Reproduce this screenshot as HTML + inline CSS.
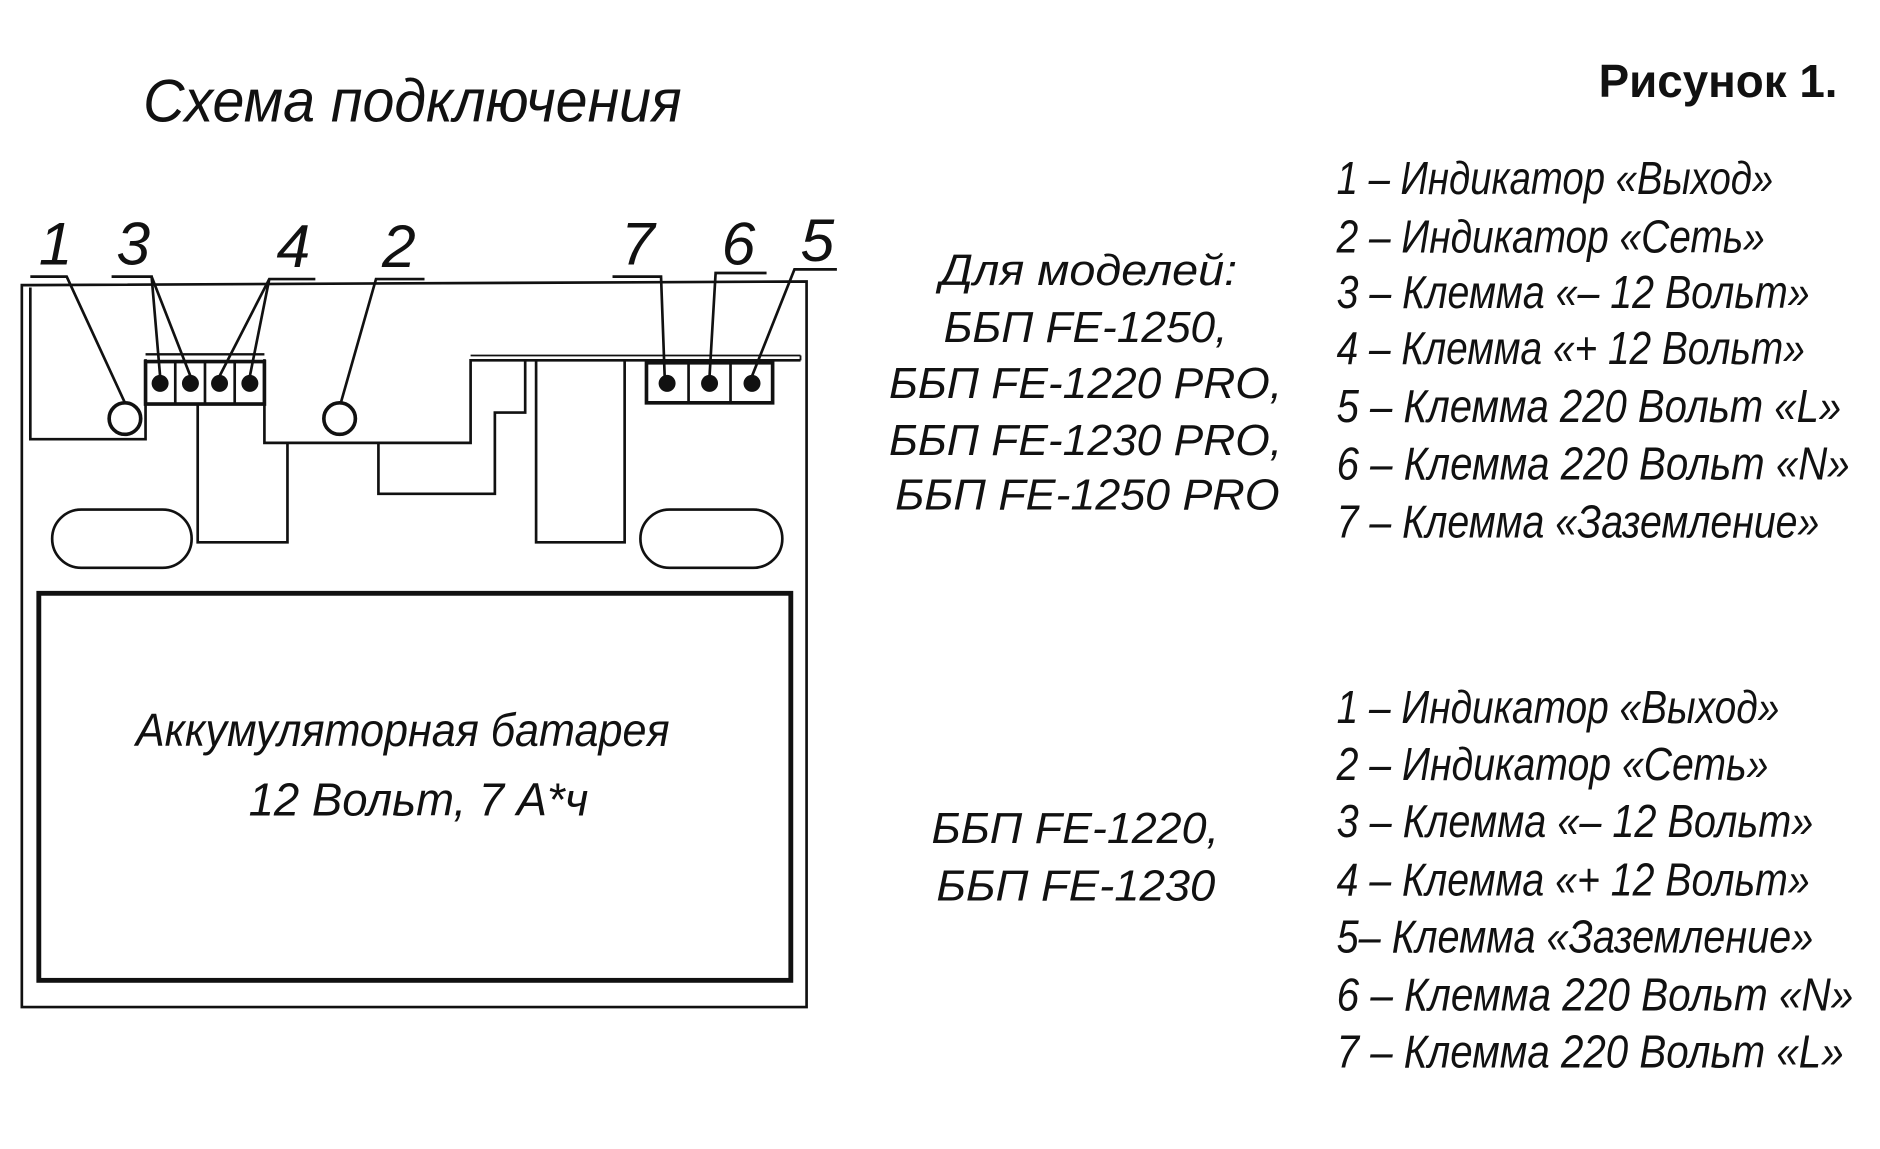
<!DOCTYPE html>
<html><head><meta charset="utf-8"><style>
html,body{margin:0;padding:0;background:#fff;}
svg{display:block}
text{font-family:"Liberation Sans","DejaVu Sans",sans-serif;font-style:italic;fill:#111;}
</style></head><body>
<svg width="1880" height="1149" viewBox="0 0 1550 947" preserveAspectRatio="none" xmlns="http://www.w3.org/2000/svg">
<rect width="1550" height="947" fill="#fff"/>
<text x="118" y="100" font-size="50" textLength="444" lengthAdjust="spacingAndGlyphs">Схема подключения</text>
<text x="1318" y="80" font-size="38" font-weight="bold" font-style="normal" style="font-style:normal" textLength="197" lengthAdjust="spacingAndGlyphs">Рисунок 1.</text>

<g stroke="#111" fill="none" stroke-width="2.2">
<!-- outer -->
<polyline points="22,235 665,232 665,830 18,830 18,235 22,235"/>
<!-- inner outline -->
<polyline points="25,237 25,362 120,362 120,296"/>
<polyline points="218,296 218,365 388,365 388,297 660,297"/>
<line x1="388" y1="293" x2="660" y2="293" stroke-width="1.5"/>
<line x1="660" y1="293" x2="660" y2="297" stroke-width="1.5"/>
<!-- terminal block left -->
<rect x="120" y="298" width="98" height="35" stroke-width="3"/>
<line x1="120" y1="292" x2="218" y2="292" stroke-width="2"/>
<line x1="144.5" y1="298" x2="144.5" y2="333"/><line x1="169" y1="298" x2="169" y2="333"/><line x1="193.5" y1="298" x2="193.5" y2="333"/>
<!-- terminal block right -->
<rect x="533" y="299" width="104" height="33" stroke-width="3"/>
<line x1="567.7" y1="299" x2="567.7" y2="332"/><line x1="602.3" y1="299" x2="602.3" y2="332"/>
<!-- lower shapes -->
<polyline points="163,333 163,447 237,447 237,365"/>
<polyline points="312,365 312,407 408,407 408,340 433,340 433,297"/>
<polyline points="442,297 442,447 515,447 515,297"/>
<rect x="43" y="420" width="115" height="48" rx="24"/>
<rect x="528" y="420" width="117" height="48" rx="24"/>
<circle cx="103" cy="345" r="13" stroke-width="3"/>
<circle cx="280" cy="345" r="13" stroke-width="3"/>
<!-- battery -->
<rect x="32" y="489" width="620" height="319" stroke-width="4"/>
<!-- leaders -->
<polyline points="25,228 55,228 103,332"/>
<polyline points="92,228 125,228 132,310"/><line x1="125" y1="228" x2="157" y2="310"/>
<polyline points="260,230 222,230 181,310"/><line x1="222" y1="230" x2="206" y2="310"/>
<polyline points="350,230 310,230 281,332"/>
<polyline points="505,228 545,228 548,310"/>
<polyline points="632,225 590,225 585,310"/>
<polyline points="690,222 655,222 620,310"/>
</g>
<g fill="#111">
<circle cx="132" cy="316" r="7"/><circle cx="157" cy="316" r="7"/><circle cx="181" cy="316" r="7"/><circle cx="206" cy="316" r="7"/>
<circle cx="550" cy="316" r="7"/><circle cx="585" cy="316" r="7"/><circle cx="620" cy="316" r="7"/>
</g>
<g font-size="50">
<text x="32" y="218">1</text><text x="96" y="218">3</text><text x="228" y="220">4</text><text x="315" y="220">2</text>
<text x="512" y="218">7</text><text x="595" y="218">6</text><text x="660" y="215">5</text>
</g>
<text x="112" y="615" font-size="38" textLength="440" lengthAdjust="spacingAndGlyphs">Аккумуляторная батарея</text>
<text x="205" y="672" font-size="38" textLength="280" lengthAdjust="spacingAndGlyphs">12 Вольт, 7 А*ч</text>

<g font-size="36">
<text x="775" y="235" textLength="245" lengthAdjust="spacingAndGlyphs">Для моделей:</text>
<text x="778" y="282" textLength="234" lengthAdjust="spacingAndGlyphs">ББП FE-1250,</text>
<text x="733" y="328" textLength="324" lengthAdjust="spacingAndGlyphs">ББП FE-1220 PRO,</text>
<text x="733" y="375" textLength="324" lengthAdjust="spacingAndGlyphs">ББП FE-1230 PRO,</text>
<text x="738" y="420" textLength="317" lengthAdjust="spacingAndGlyphs">ББП FE-1250 PRO</text>
<text x="768" y="695" textLength="237" lengthAdjust="spacingAndGlyphs">ББП FE-1220,</text>
<text x="772" y="742" textLength="230" lengthAdjust="spacingAndGlyphs">ББП FE-1230</text>
</g>
<g font-size="38">
<text x="1102" y="160" textLength="360" lengthAdjust="spacingAndGlyphs">1 – Индикатор «Выход»</text>
<text x="1102" y="208" textLength="353" lengthAdjust="spacingAndGlyphs">2 – Индикатор «Сеть»</text>
<text x="1102" y="254" textLength="390" lengthAdjust="spacingAndGlyphs">3 – Клемма «– 12 Вольт»</text>
<text x="1102" y="300" textLength="386" lengthAdjust="spacingAndGlyphs">4 – Клемма «+ 12 Вольт»</text>
<text x="1102" y="348" textLength="416" lengthAdjust="spacingAndGlyphs">5 – Клемма 220 Вольт «L»</text>
<text x="1102" y="395" textLength="423" lengthAdjust="spacingAndGlyphs">6 – Клемма 220 Вольт «N»</text>
<text x="1102" y="443" textLength="398" lengthAdjust="spacingAndGlyphs">7 – Клемма «Заземление»</text>

<text x="1102" y="596" textLength="365" lengthAdjust="spacingAndGlyphs">1 – Индикатор «Выход»</text>
<text x="1102" y="643" textLength="356" lengthAdjust="spacingAndGlyphs">2 – Индикатор «Сеть»</text>
<text x="1102" y="690" textLength="393" lengthAdjust="spacingAndGlyphs">3 – Клемма «– 12 Вольт»</text>
<text x="1102" y="738" textLength="390" lengthAdjust="spacingAndGlyphs">4 – Клемма «+ 12 Вольт»</text>
<text x="1102" y="785" textLength="393" lengthAdjust="spacingAndGlyphs">5– Клемма «Заземление»</text>
<text x="1102" y="833" textLength="426" lengthAdjust="spacingAndGlyphs">6 – Клемма 220 Вольт «N»</text>
<text x="1102" y="880" textLength="418" lengthAdjust="spacingAndGlyphs">7 – Клемма 220 Вольт «L»</text>
</g>
</svg>
</body></html>
